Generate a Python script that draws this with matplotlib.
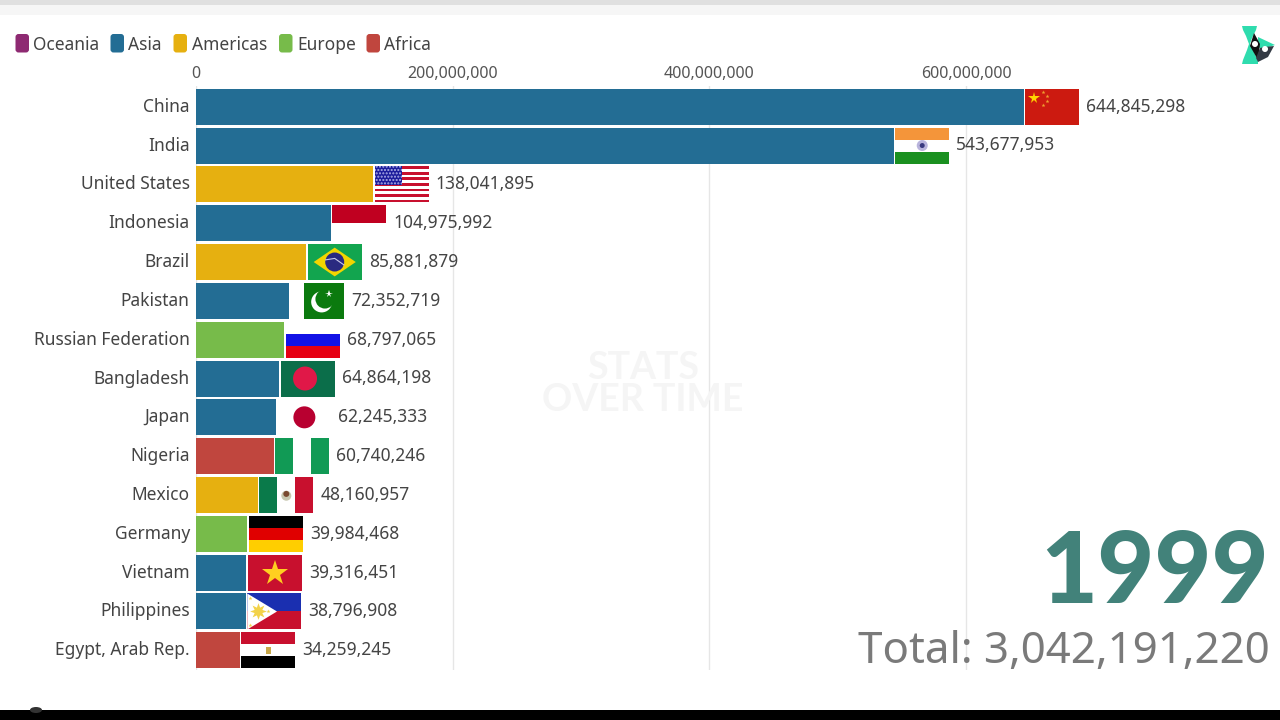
import matplotlib
matplotlib.use('Agg')
import matplotlib.pyplot as plt
from matplotlib.patches import Rectangle, Polygon, Ellipse, FancyBboxPatch
from matplotlib.ticker import FuncFormatter
from matplotlib.transforms import ScaledTranslation
import numpy as np

plt.rcParams['font.family'] = ['Noto Sans', 'DejaVu Sans']

countries = ['China', 'India', 'United States', 'Indonesia', 'Brazil', 'Pakistan',
             'Russian Federation', 'Bangladesh', 'Japan', 'Nigeria', 'Mexico',
             'Germany', 'Vietnam', 'Philippines', 'Egypt, Arab Rep.']
values = [644845298, 543677953, 138041895, 104975992, 85881879, 72352719,
          68797065, 64864198, 62245333, 60740246, 48160957,
          39984468, 39316451, 38796908, 34259245]
regions = ['Asia', 'Asia', 'Americas', 'Asia', 'Americas', 'Asia',
           'Europe', 'Asia', 'Asia', 'Africa', 'Americas',
           'Europe', 'Asia', 'Asia', 'Africa']
legend_names = ['Oceania', 'Asia', 'Americas', 'Europe', 'Africa']
legend_colors = ['#8e2a72', '#236d94', '#e6b010', '#77bb4a', '#c0463e']
ticks = [0, 200000000, 400000000, 600000000]
year = '1999'
total = 'Total: 3,042,191,220'

colors = dict(zip(legend_names, legend_colors))
W, H = 1280, 720
PX = 770 / 600e6  # pixels per unit of value
FLAG_W, FLAG_H = 54, 36


def box(a, x, y, w, h, c):
    a.add_patch(Rectangle((x, y), w, h, fc=c, ec='none'))


def disc(a, cx, cy, d, c):
    a.add_patch(Ellipse((cx, cy), d / FLAG_W, d / FLAG_H, fc=c, ec='none'))


def star(a, x, y, s, c):
    a.plot([x], [y], marker='*', ms=s, color=c, mew=0)


def stripes(a, cols):
    n = len(cols)
    for i, c in enumerate(cols):
        box(a, 0, 1 - (i + 1) / n, 1, 1 / n, c)


def china(a):
    box(a, 0, 0, 1, 1, '#cc1a10')
    star(a, .16, .75, 8.5, '#ffd500')
    for x, y in [(.33, .92), (.4, .8), (.4, .66), (.33, .54)]:
        star(a, x, y, 3, '#f0a030')


def india(a):
    stripes(a, ['#f4953a', '#ffffff', '#1a9020'])
    disc(a, .5, .5, 11, '#b9b4dc')
    disc(a, .5, .5, 5, '#3a3a80')


def usa(a):
    stripes(a, ['#c8102e', '#ffffff'] * 6 + ['#c8102e'])
    box(a, 0, .47, .5, .53, '#1c1c9c')
    a.add_patch(Rectangle((0, .47), .5, .53, fc='none', ec='#b0b0e8', lw=0, hatch='.....'))


def indonesia(a):
    stripes(a, ['#c00020', '#ffffff'])


def brazil(a):
    box(a, 0, 0, 1, 1, '#12a54f')
    a.add_patch(Polygon([(.11, .5), (.5, .9), (.89, .5), (.5, .1)], fc='#f2d500', ec='none'))
    disc(a, .5, .5, 19, '#2a2a80')
    a.plot([.33, .5, .67], [.56, .6, .42], color='#c8c8e8', lw=.8)


def pakistan(a):
    box(a, .25, 0, .75, 1, '#0b7a0e')
    disc(a, .58, .47, 21, '#ffffff')
    disc(a, .64, .55, 19, '#0b7a0e')
    star(a, .72, .68, 5.5, '#ffffff')


def russia(a):
    stripes(a, ['#ffffff', '#1212e6', '#e60012'])


def bangladesh(a):
    box(a, 0, 0, 1, 1, '#0b6e4a')
    disc(a, .45, .5, 24, '#e01848')


def japan(a):
    disc(a, .5, .5, 22, '#b80030')


def nigeria(a):
    box(a, 0, 0, 1 / 3, 1, '#119a55')
    box(a, 2 / 3, 0, 1 / 3, 1, '#119a55')


def mexico(a):
    box(a, 0, 0, 1 / 3, 1, '#0a7a4a')
    box(a, 2 / 3, 0, 1 / 3, 1, '#c8102e')
    disc(a, .5, .48, 10, '#c8c8b0')
    disc(a, .5, .53, 6, '#7a4a30')


def germany(a):
    stripes(a, ['#000000', '#e00000', '#ffce00'])


def vietnam(a):
    box(a, 0, 0, 1, 1, '#c8102e')
    star(a, .5, .5, 19, '#ffcf20')


def philippines(a):
    box(a, 0, .5, 1, .5, '#1a2fb0')
    box(a, 0, 0, 1, .5, '#c8102e')
    a.add_patch(Polygon([(0, 0), (.55, .5), (0, 1)], fc='#ffffff', ec='none'))
    a.plot([.19], [.5], marker=(8, 1, 0), ms=12, color='#f2d24a', mew=0)
    star(a, .05, .88, 3, '#f2d24a')
    star(a, .05, .12, 3, '#f2d24a')
    star(a, .38, .5, 3, '#f2d24a')


def egypt(a):
    stripes(a, ['#c8102e', '#ffffff', '#000000'])
    box(a, .45, .4, .1, .2, '#c8a84a')


flags = [china, india, usa, indonesia, brazil, pakistan, russia, bangladesh, japan,
         nigeria, mexico, germany, vietnam, philippines, egypt]

fig = plt.figure(figsize=(W / 100, H / 100), dpi=100, facecolor='white')

ax = fig.add_axes([196 / W, 1 - 670 / H, (W - 196) / W, 584 / H])
ranks = np.arange(len(countries))[::-1]
ax.barh(ranks, values, height=0.927, color=[colors[r] for r in regions], zorder=2)
ax.set_xlim(0, (W - 196) / PX)
ax.set_ylim(-0.507, 14.533)
ax.set_facecolor('none')
for s in ax.spines.values():
    s.set_visible(False)
ax.xaxis.tick_top()
ax.set_xticks(ticks)
ax.xaxis.set_major_formatter(FuncFormatter(lambda v, p: f'{int(v):,}'))
ax.tick_params(axis='x', length=0, pad=3, labelsize=11.5, labelcolor='#555555')
ax.set_yticks(ranks)
ax.set_yticklabels(countries)
ax.tick_params(axis='y', length=0, pad=4.5, labelsize=12.5, labelcolor='#444444')
ax.xaxis.grid(True, color='#e6e6e6', lw=1, zorder=0)

# the row labels sit a little above the bar centres
lift = ScaledTranslation(0, 2 / 100, fig.dpi_scale_trans)
for label in ax.get_yticklabels():
    label.set_transform(label.get_transform() + lift)

for rank, value, flag in zip(ranks, values, flags):
    sub = ax.inset_axes([value + 1.5 / PX, rank - 0.4635, FLAG_W / PX, 0.927],
                        transform=ax.transData, zorder=3)
    sub.set_xlim(0, 1)
    sub.set_ylim(0, 1)
    sub.axis('off')
    flag(sub)
    ax.annotate(f'{value:,}', (value, rank), xytext=(45, 1.5), textcoords='offset points',
                va='center_baseline', ha='left', fontsize=12.5, color='#444444')

# everything not tied to the data sits on a pixel overlay
top = fig.add_axes([0, 0, 1, 1], zorder=5)
top.set_xlim(0, W)
top.set_ylim(H, 0)
top.axis('off')
top.add_patch(Rectangle((0, 0), W, 5, fc='#e0e0e0', ec='none'))
top.add_patch(Rectangle((0, 5), W, 10, fc='#f6f6f6', ec='none'))
top.add_patch(Rectangle((0, 710), W, 10, fc='#000000', ec='none'))
top.add_patch(Ellipse((36, 710), 12, 6, fc='#333333', ec='none'))

swatch_x = [15.5, 110.5, 173.5, 279, 366.5]
for x, name, c in zip(swatch_x, legend_names, legend_colors):
    top.add_patch(FancyBboxPatch((x + 2, 36), 9.5, 14.5, boxstyle='round,pad=2,rounding_size=3',
                                 fc=c, ec='none'))
    top.text(x + 18, 44.5, name, va='center', ha='left', fontsize=12.5, color='#444444')

top.text(643, 368, 'STATS', ha='center', va='center', fontsize=27, family='Lato', weight='bold', color='#f5f5f5')
top.text(643, 400, 'OVER TIME', ha='center', va='center', fontsize=27, family='Lato', weight='bold', color='#f5f5f5')

top.text(1269, 603, year, ha='right', va='baseline', fontsize=71, family='Lato', weight='black', color='#42827a')
top.text(1270, 663, total, ha='right', va='baseline', fontsize=31.6, color='#7a7a7a')

# logo
top.add_patch(Polygon([(1242, 26), (1257, 26), (1256, 30), (1252, 38), (1250, 44), (1254, 52),
                       (1258, 61), (1258, 64), (1242, 64), (1243, 60), (1247, 50), (1249, 44),
                       (1246, 36), (1243, 30)], fc='#2fdcae', ec='none'))
top.add_patch(Polygon([(1258, 37), (1275, 45), (1262, 49), (1258, 47)], fc='#2fdcae', ec='none'))
top.add_patch(Polygon([(1254, 33), (1260, 44), (1258, 60), (1250, 46)], fc='#111111', ec='none'))
top.add_patch(Polygon([(1274, 46), (1268, 57), (1258, 62), (1256, 58), (1260, 48), (1264, 47)],
                      fc='#333a44', ec='none'))
top.add_patch(Ellipse((1255, 44), 6, 6, fc='#ffffff', ec='none'))
top.add_patch(Ellipse((1265, 49), 6, 6, fc='#ffffff', ec='none'))

fig.savefig('out.png', dpi=100)
